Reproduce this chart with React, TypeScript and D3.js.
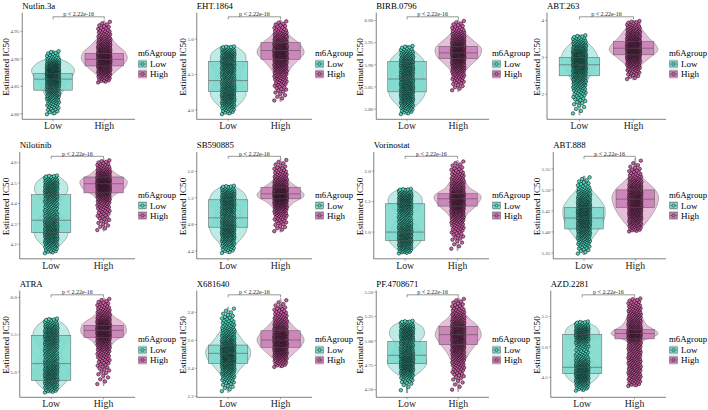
import React from "react";
import * as d3 from "d3";

const drugs = ["Nutlin.3a", "EHT.1864", "BIRB.0796", "ABT.263", "Nilotinib", "SB590885", "Vorinostat", "ABT.888", "ATRA", "X681640", "PF.4708671", "AZD.2281"];
const groups = ["Low", "High"];
const pLabel = "p < 2.22e-16";
const yLabel = "Estimated IC50";
const legendTitle = "m6Agroup";

const yDomains: [number, number][] = [
  [4.790, 4.984], [3.868, 5.376], [5.777, 6.018], [1.32, 4.217],
  [4.129, 4.652], [4.284, 5.890], [0.562, 2.311], [5.336, 5.590],
  [4.661, 6.091], [2.193, 2.955], [4.422, 5.515], [4.172, 5.923],
];

const tickLabels: string[][] = [
  ["4.80", "4.85", "4.90", "4.95"],
  ["4.0", "4.5", "5.0"],
  ["5.80", "5.85", "5.90", "5.95", "6.00"],
  ["2", "3", "4"],
  ["4.2", "4.3", "4.4", "4.5", "4.6"],
  ["4.4", "4.8", "5.2", "5.6"],
  ["1.0", "1.5", "2.0"],
  ["5.35", "5.40", "5.45", "5.50", "5.55"],
  ["5.0", "5.5", "6.0"],
  ["2.2", "2.4", "2.6", "2.8"],
  ["4.50", "4.75", "5.00", "5.25", "5.50"],
  ["4.5", "5.0", "5.5"],
];

// [min, q1, median, q3, max]
const lowStats: number[][] = [
  [4.798, 4.843, 4.863, 4.873, 4.915],
  [3.93, 4.259, 4.415, 4.684, 4.90],
  [5.787, 5.839, 5.868, 5.907, 5.944],
  [1.44, 2.50, 2.80, 3.00, 3.61],
  [4.154, 4.257, 4.318, 4.443, 4.538],
  [4.36, 4.76, 4.90, 5.172, 5.387],
  [0.645, 0.863, 1.0, 1.464, 1.71],
  [5.346, 5.407, 5.433, 5.458, 5.533],
  [4.72, 4.888, 5.112, 5.491, 5.72],
  [2.228, 2.436, 2.507, 2.566, 2.838],
  [4.466, 4.766, 4.852, 4.995, 5.207],
  [4.27, 4.56, 4.664, 5.201, 5.42],
];
const highStats: number[][] = [
  [4.856, 4.887, 4.899, 4.910, 4.969],
  [4.118, 4.717, 4.840, 4.953, 5.264],
  [5.840, 5.914, 5.927, 5.942, 6.0015],
  [2.39, 3.07, 3.25, 3.43, 4.0],
  [4.265, 4.452, 4.497, 4.53, 4.615],
  [4.686, 5.187, 5.262, 5.362, 5.788],
  [0.70, 1.426, 1.546, 1.628, 2.175],
  [5.40, 5.458, 5.478, 5.50, 5.574],
  [4.817, 5.464, 5.558, 5.625, 5.99],
  [2.406, 2.55, 2.602, 2.668, 2.897],
  [4.48, 4.961, 5.064, 5.149, 5.44],
  [4.35, 5.13, 5.218, 5.284, 5.80],
];

// relative violin density (1 = widest violin in the panel), min -> max, 11 evenly spaced levels
const lowProfiles: number[][] = [
  [0.05, 0.11, 0.2, 0.33, 0.47, 0.63, 0.84, 0.93, 0.7, 0.19, 0.05],
  [0.05, 0.3, 0.6, 0.76, 0.7, 0.55, 0.55, 0.7, 0.76, 0.7, 0.3],
  [0.05, 0.3, 0.6, 0.78, 0.78, 0.72, 0.72, 0.78, 0.7, 0.4, 0.08],
  [0.02, 0.04, 0.08, 0.15, 0.28, 0.45, 0.65, 0.76, 0.65, 0.35, 0.08],
  [0.08, 0.35, 0.65, 0.73, 0.65, 0.4, 0.3, 0.45, 0.7, 0.65, 0.25],
  [0.05, 0.25, 0.5, 0.72, 0.79, 0.6, 0.55, 0.7, 0.79, 0.65, 0.2],
  [0.1, 0.45, 0.68, 0.73, 0.6, 0.4, 0.35, 0.55, 0.73, 0.65, 0.25],
  [0.04, 0.15, 0.35, 0.6, 0.82, 0.91, 0.9, 0.7, 0.4, 0.12, 0.03],
  [0.1, 0.5, 0.72, 0.77, 0.62, 0.45, 0.5, 0.7, 0.77, 0.6, 0.15],
  [0.03, 0.1, 0.3, 0.6, 0.9, 0.94, 0.65, 0.38, 0.2, 0.08, 0.02],
  [0.01, 0.04, 0.2, 0.6, 0.85, 0.8, 0.6, 0.55, 0.75, 0.7, 0.2],
  [0.04, 0.3, 0.65, 0.75, 0.55, 0.25, 0.12, 0.3, 0.72, 0.65, 0.12],
];
const highProfiles: number[][] = [
  [0.05, 0.25, 0.55, 0.85, 1.0, 0.9, 0.6, 0.35, 0.2, 0.1, 0.03],
  [0.03, 0.06, 0.12, 0.22, 0.4, 0.7, 1.0, 0.85, 0.45, 0.15, 0.04],
  [0.03, 0.08, 0.18, 0.35, 0.65, 0.95, 1.0, 0.7, 0.35, 0.12, 0.03],
  [0.04, 0.1, 0.22, 0.45, 0.75, 1.0, 0.9, 0.65, 0.45, 0.25, 0.08],
  [0.03, 0.05, 0.08, 0.12, 0.2, 0.45, 0.9, 1.0, 0.55, 0.2, 0.04],
  [0.03, 0.06, 0.12, 0.25, 0.55, 1.0, 0.75, 0.35, 0.15, 0.06, 0.02],
  [0.02, 0.05, 0.1, 0.2, 0.4, 0.8, 1.0, 0.5, 0.25, 0.1, 0.03],
  [0.1, 0.4, 0.65, 0.85, 0.98, 1.0, 0.8, 0.45, 0.18, 0.06, 0.02],
  [0.02, 0.04, 0.07, 0.12, 0.22, 0.45, 0.95, 0.9, 0.4, 0.15, 0.04],
  [0.06, 0.25, 0.55, 0.85, 1.0, 0.85, 0.55, 0.3, 0.15, 0.06, 0.02],
  [0.02, 0.05, 0.12, 0.25, 0.45, 0.75, 1.0, 0.85, 0.4, 0.15, 0.04],
  [0.08, 0.22, 0.26, 0.27, 0.26, 0.3, 1.0, 0.5, 0.3, 0.2, 0.08],
];

const FONT = "Liberation Serif, Tinos, Times New Roman, DejaVu Serif, serif";
const COLS = [0, 177, 354, 531];
const ROWS = [0, 139.5, 278];
const LEGEND_Y = [56, 58, 64];
const PLOT_TOP = 12.6;
const PLOT_BOTTOM = 119.3;
const PLOT_RIGHT = 135;
const N_POINTS = 420;

const palette = {
  Low: { point: "#4FD8C0", box: "#80D9CD", violin: "#BCECE5" },
  High: { point: "#D35FA9", box: "#C97FB5", violin: "#E6BEDA" },
} as Record<string, { point: string; box: string; violin: string }>;

function densityAt(prof: number[], t: number) {
  const s = t * (prof.length - 1);
  const i = Math.min(Math.floor(s), prof.length - 2);
  const f = s - i;
  return prof[i] * (1 - f) + prof[i + 1] * f;
}

function samplePoints(lo: number, hi: number, prof: number[], n: number) {
  const M = 400;
  const dens = d3.range(M + 1).map((j) => densityAt(prof, j / M));
  const cum: number[] = [0];
  for (let j = 1; j <= M; j++) cum[j] = cum[j - 1] + (dens[j - 1] + dens[j]) / 2;
  const total = cum[M];
  return d3.range(n).map((i) => {
    const q = ((i + 0.5) / n) * total;
    let j = d3.bisectLeft(cum, q);
    j = Math.max(1, Math.min(M, j));
    const seg = cum[j] - cum[j - 1] || 1;
    const f = (q - cum[j - 1]) / seg;
    return lo + (hi - lo) * ((j - 1 + f) / M);
  });
}

function labelWidth(s: string, size: number) {
  let w = 0;
  for (const c of s) w += c === "." ? 0.25 : 0.5;
  return w * size;
}

const txt = (size: number, fill: string) => ({ fontFamily: FONT, fontSize: size + "px", fill });

function Panel({ k }: { k: number }) {
  const ox = COLS[k % 4];
  const row = Math.floor(k / 4);
  const oy = ROWS[row];
  const ticks = tickLabels[k];
  const tickSize = 5;
  const left = 13.5 + (d3.max(ticks, (s) => labelWidth(s, tickSize)) || 0);
  const x = d3.scalePoint<string>().domain(groups).range([left, PLOT_RIGHT]).padding(0.6);
  const step = x.step();
  const y = d3.scaleLinear().domain(yDomains[k]).range([PLOT_BOTTOM, PLOT_TOP]);
  const halfMax = 0.45 * step;
  const boxHalf = 0.375 * step;
  const jit = 0.12 * step;

  const info = groups.map((g, gi) => {
    const st = gi === 0 ? lowStats[k] : highStats[k];
    const prof = gi === 0 ? lowProfiles[k] : highProfiles[k];
    const cx = x(g) as number;
    const [mn, q1, med, q3, mx] = st;
    const iqr = q3 - q1;
    const wLo = Math.max(mn, q1 - 1.5 * iqr);
    const wHi = Math.min(mx, q3 + 1.5 * iqr);
    const levels = prof.map((d, i) => [mn + ((mx - mn) * i) / (prof.length - 1), d] as [number, number]);
    const area = d3
      .area<[number, number]>()
      .y((d) => y(d[0]))
      .x0((d) => cx - d[1] * halfMax)
      .x1((d) => cx + d[1] * halfMax)
      .curve(d3.curveCatmullRom);
    const vals = samplePoints(mn, mx, prof, N_POINTS);
    const pts = vals.map((v, i) => ({
      px: cx + (((i * 0.6180339887) % 1) * 2 - 1) * jit,
      py: y(v),
    }));
    return { g, cx, q1, med, q3, wLo, wHi, path: area(levels) || "", pts };
  });

  const bracketY = PLOT_TOP + 4.2;
  const lx = 138;
  const lgy = LEGEND_Y[row];

  return (
    <g transform={`translate(${ox},${oy})`}>
      <text x={left} y={8.6} style={txt(8.8, "#000")}>
        {drugs[k]}
      </text>
      {info.map((d) => (
        <path key={"v" + d.g} d={d.path} fill={palette[d.g].violin} stroke="#5a5a5a" strokeWidth={0.4} />
      ))}
      {info.map((d) => (
        <g key={"b" + d.g}>
          <line x1={d.cx} x2={d.cx} y1={y(d.q3)} y2={y(d.wHi)} stroke="#333" strokeWidth={0.5} />
          <line x1={d.cx} x2={d.cx} y1={y(d.q1)} y2={y(d.wLo)} stroke="#333" strokeWidth={0.5} />
          <rect x={d.cx - boxHalf} y={y(d.q3)} width={2 * boxHalf} height={y(d.q1) - y(d.q3)} fill={palette[d.g].box} fillOpacity={0.9} />
        </g>
      ))}
      {info.map((d) => (
        <g key={"p" + d.g}>
          {d.pts.map((p, i) => (
            <circle key={i} cx={p.px} cy={p.py} r={1.75} fill={palette[d.g].point} stroke="#000" strokeWidth={0.5} />
          ))}
        </g>
      ))}
      {info.map((d) => (
        <g key={"o" + d.g}>
          <rect x={d.cx - boxHalf} y={y(d.q3)} width={2 * boxHalf} height={y(d.q1) - y(d.q3)} fill="none" stroke="#555" strokeWidth={0.5} />
          <line x1={d.cx - boxHalf} x2={d.cx + boxHalf} y1={y(d.med)} y2={y(d.med)} stroke="#555" strokeWidth={0.6} />
        </g>
      ))}
      <line x1={left} x2={left} y1={PLOT_TOP} y2={PLOT_BOTTOM} stroke="#000" strokeWidth={0.5} />
      <line x1={left} x2={PLOT_RIGHT} y1={PLOT_BOTTOM} y2={PLOT_BOTTOM} stroke="#000" strokeWidth={0.5} />
      {ticks.map((t) => {
        const ty = y(parseFloat(t));
        return (
          <g key={t}>
            <line x1={left - 2} x2={left} y1={ty} y2={ty} stroke="#333" strokeWidth={0.4} />
            <text x={left - 3} y={ty} dy="0.35em" textAnchor="end" style={txt(tickSize, "#4d4d4d")}>
              {t}
            </text>
          </g>
        );
      })}
      {groups.map((g) => (
        <g key={"x" + g}>
          <line x1={x(g)} x2={x(g)} y1={PLOT_BOTTOM} y2={PLOT_BOTTOM + 2} stroke="#333" strokeWidth={0.4} />
          <text x={x(g)} y={129.3} textAnchor="middle" style={txt(9.8, "#222")}>
            {g}
          </text>
        </g>
      ))}
      <text
        transform={`translate(8.6,${(PLOT_TOP + PLOT_BOTTOM) / 2 + 1}) rotate(-90)`}
        textAnchor="middle"
        style={txt(9.2, "#000")}
      >
        {yLabel}
      </text>
      <path
        d={`M${x("Low")},${bracketY + 2.6}V${bracketY}H${x("High")}V${bracketY + 2.6}`}
        fill="none"
        stroke="#333"
        strokeWidth={0.5}
      />
      <text x={((x("Low") as number) + (x("High") as number)) / 2} y={bracketY - 0.4} textAnchor="middle" style={txt(6, "#222")}>
        {pLabel}
      </text>
      <text x={lx} y={lgy} style={txt(8.8, "#000")}>
        {legendTitle}
      </text>
      {groups.map((g, gi) => {
        const ky = lgy + 3.5 + gi * 10;
        return (
          <g key={"l" + g}>
            <rect x={lx} y={ky} width={9} height={9} fill={palette[g].violin} />
            <rect x={lx + 0.8} y={ky + 1.5} width={7.4} height={6} fill={palette[g].box} stroke="#555" strokeWidth={0.5} />
            <line x1={lx + 0.8} x2={lx + 8.2} y1={ky + 4.5} y2={ky + 4.5} stroke="#555" strokeWidth={0.5} />
            <circle cx={lx + 4.5} cy={ky + 4.5} r={1.6} fill={palette[g].point} stroke="#000" strokeWidth={0.4} />
            <text x={lx + 12} y={ky + 7.6} style={txt(9, "#000")}>
              {g}
            </text>
          </g>
        );
      })}
    </g>
  );
}

export default function App() {
  return (
    <svg
      width={708}
      height={410}
      viewBox="0 0 708 410"
      style={{ position: "absolute", left: 0, top: 0, display: "block", background: "#fff" }}
    >
      <rect width={708} height={410} fill="#fff" />
      {drugs.map((_, k) => (
        <Panel key={k} k={k} />
      ))}
    </svg>
  );
}
